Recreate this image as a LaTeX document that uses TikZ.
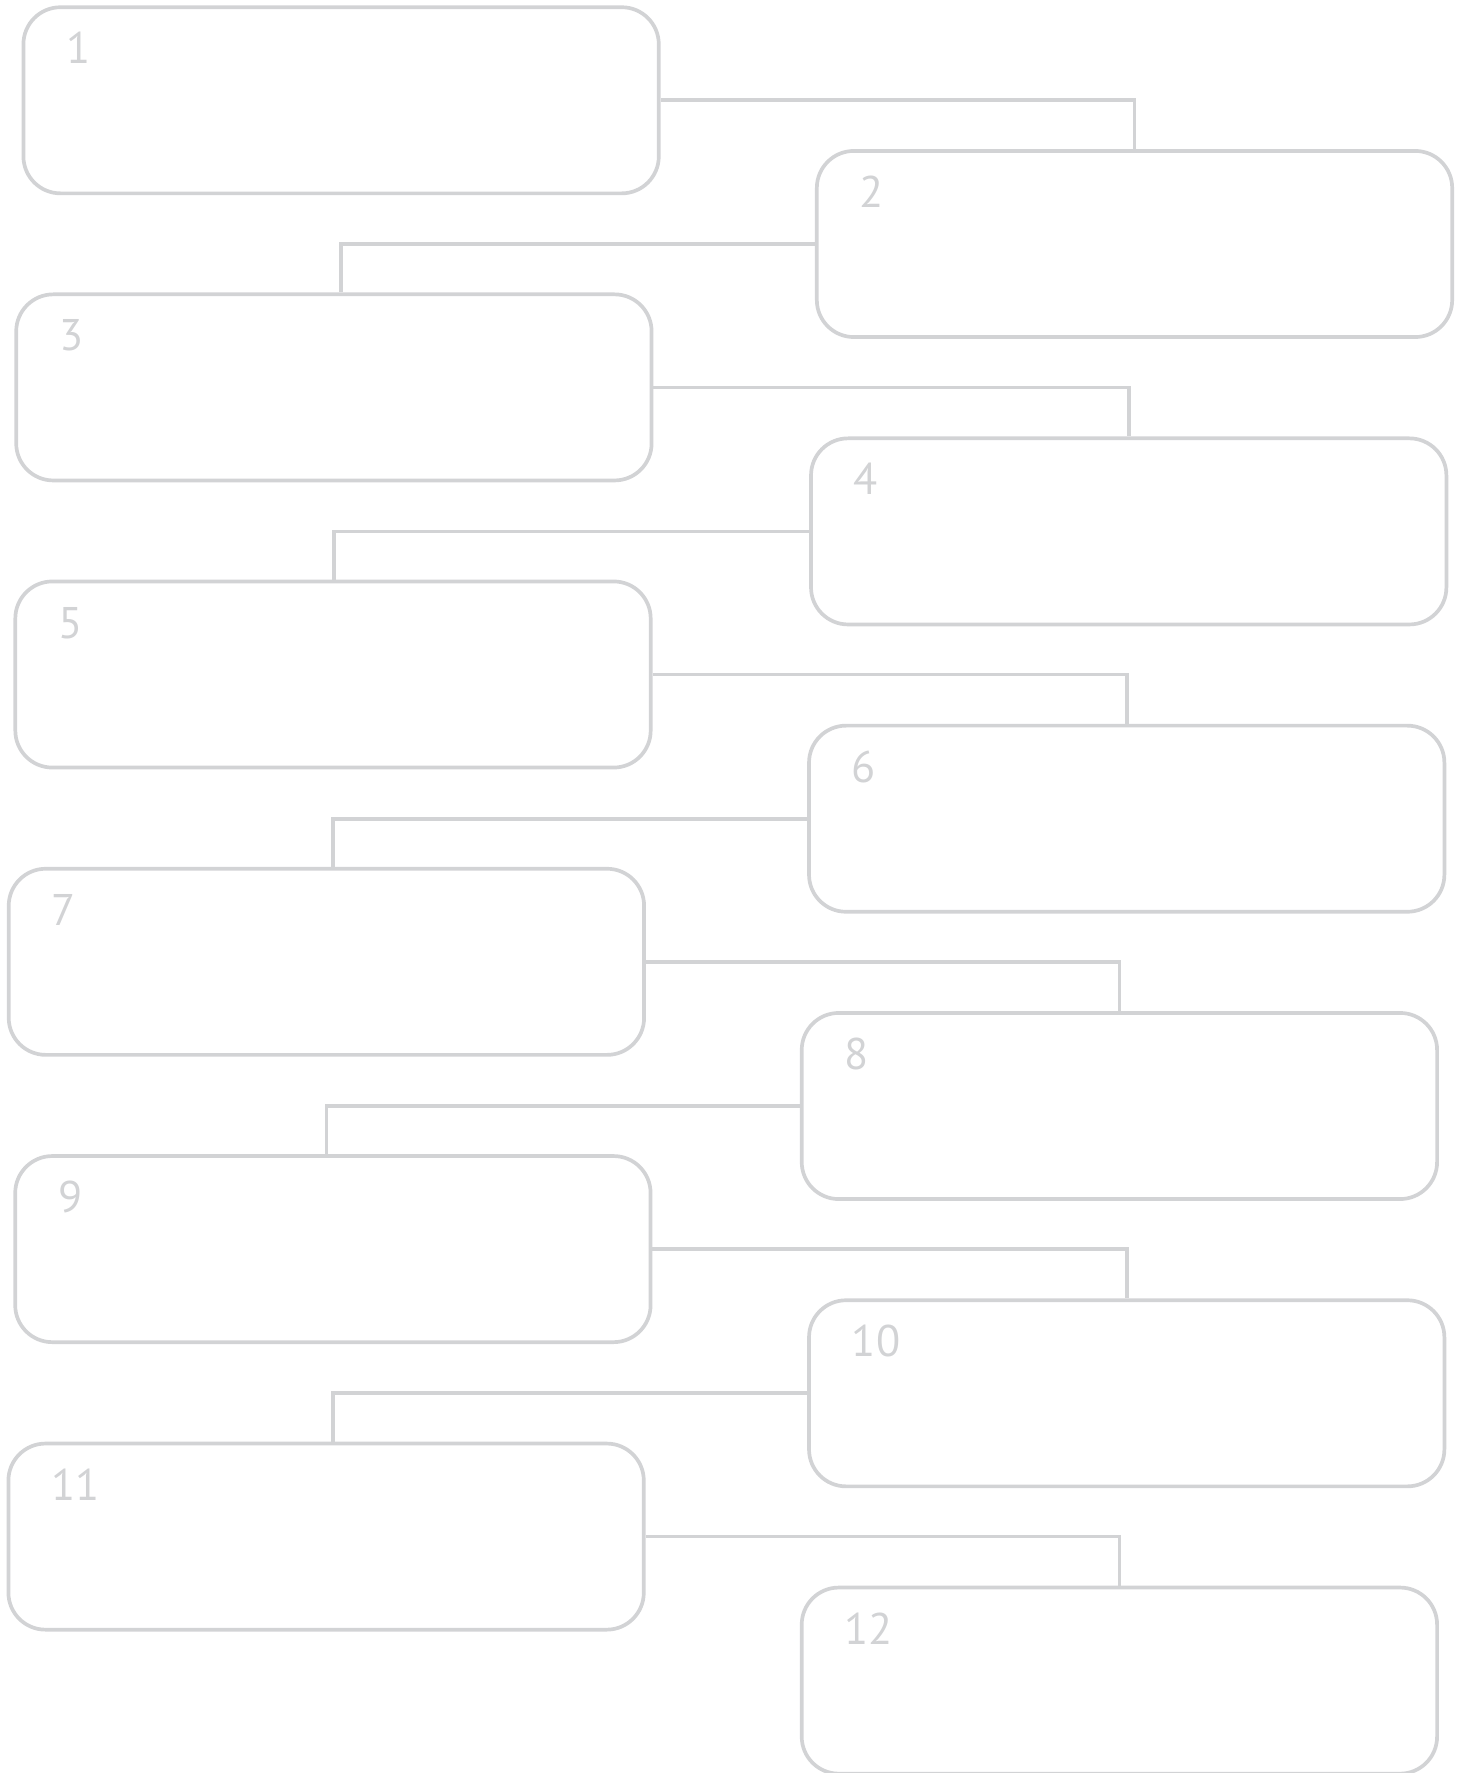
\documentclass[tikz,border=0pt]{standalone}
\usepackage{fontspec}
\setmainfont{PT Sans}
\usepackage{tikz}
\usetikzlibrary{positioning, calc}
\definecolor{frameGray}{RGB}{210,211,213}

\begin{document}
\begin{tikzpicture}[x=0.01cm, y=-0.01cm,
				blk/.style={draw=frameGray, line width=1.05pt, rounded corners=0.37cm, minimum width=6.35cm, minimum height=1.86cm, inner sep=0pt},
				num/.style={anchor=base west, inner sep=0pt, text=frameGray, font=\fontsize{12.6}{14}\selectfont},
				link/.style={draw=frameGray, line width=1.05pt}]
				\useasboundingbox (0,0) rectangle (1466,1773);
				\node[blk] (b1) at (341.1,100.3) {};
				\node[blk] (b2) at (1134.5,244) {};
				\node[blk] (b3) at (333.9,387.4) {};
				\node[blk] (b4) at (1128.7,531.4) {};
				\node[blk] (b5) at (333,674.5) {};
				\node[blk] (b6) at (1126.7,818.7) {};
				\node[blk] (b7) at (326.4,961.8) {};
				\node[blk] (b8) at (1119.4,1106) {};
				\node[blk] (b9) at (332.9,1249.1) {};
				\node[blk] (b10) at (1126.7,1393.3) {};
				\node[blk] (b11) at (326.1,1536.6) {};
				\node[blk] (b12) at (1119.4,1680.6) {};
				\node[num] (n1) at ($(b1.north west)+(44,58.5)$) {1};
				\node[num] (n2) at ($(b2.north west)+(44,58.5)$) {2};
				\node[num] (n3) at ($(b3.north west)+(44,58.5)$) {3};
				\node[num] (n4) at ($(b4.north west)+(44,58.5)$) {4};
				\node[num] (n5) at ($(b5.north west)+(44,58.5)$) {5};
				\node[num] (n6) at ($(b6.north west)+(44,58.5)$) {6};
				\node[num] (n7) at ($(b7.north west)+(44,58.5)$) {7};
				\node[num] (n8) at ($(b8.north west)+(44,58.5)$) {8};
				\node[num] (n9) at ($(b9.north west)+(44,58.5)$) {9};
				\node[num] (n10) at ($(b10.north west)+(44,58.5)$) {10};
				\node[num] (n11) at ($(b11.north west)+(44,58.5)$) {11};
				\node[num] (n12) at ($(b12.north west)+(44,58.5)$) {12};
				\draw[link] (b1.east) -| (b2.north);
				\draw[link] (b2.west) -| (b1.center |- b3.north);
				\draw[link] (b3.east) -| (b4.north);
				\draw[link] (b4.west) -| (b3.center |- b5.north);
				\draw[link] (b5.east) -| (b6.north);
				\draw[link] (b6.west) -| (b5.center |- b7.north);
				\draw[link] (b7.east) -| (b8.north);
				\draw[link] (b8.west) -| (b7.center |- b9.north);
				\draw[link] (b9.east) -| (b10.north);
				\draw[link] (b10.west) -| (b9.center |- b11.north);
				\draw[link] (b11.east) -| (b12.north);
			\end{tikzpicture}
\end{document}
